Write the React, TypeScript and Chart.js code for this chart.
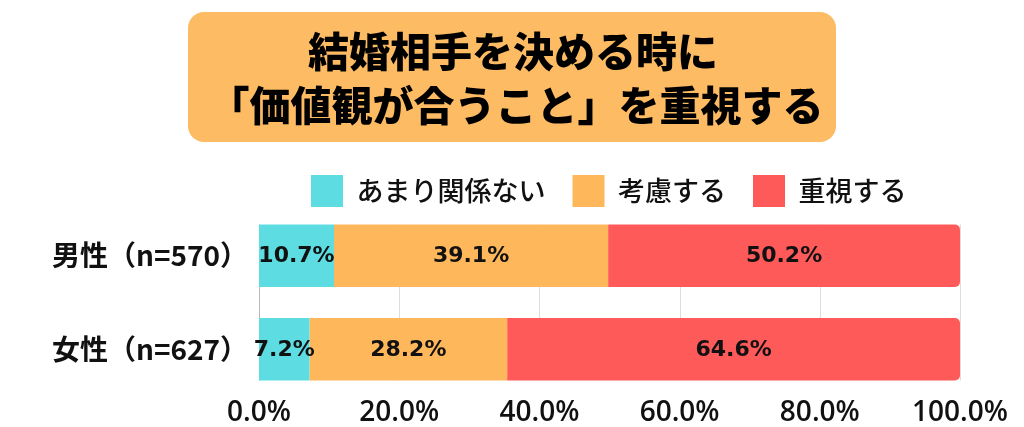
import React, { useEffect, useRef } from "react";
import { Chart, registerables } from "chart.js";

Chart.register(...registerables);

const titleLines = ["結婚相手を決める時に", "「価値観が合うこと」を重視する"];
const categories = ["男性（n=570）", "女性（n=627）"];
const seriesNames = ["あまり関係ない", "考慮する", "重視する"];
const notRelevant = [10.7, 7.2];
const consider = [39.1, 28.2];
const important = [50.2, 64.6];
const seriesColors = ["#5DDDE2", "#FEB75B", "#FF5A5A"];
const TITLE_BG = "#FDBB63";

const titlePlugin = {
  id: "titleBox",
  beforeDraw(chart: any) {
    const ctx = chart.ctx;
    ctx.save();
    ctx.fillStyle = TITLE_BG;
    ctx.beginPath();
    (ctx as any).roundRect(188, 12, 648, 130, 16);
    ctx.fill();
    ctx.fillStyle = "#000";
    ctx.textAlign = "center";
    ctx.textBaseline = "middle";
    ctx.font = '900 41px "Noto Sans CJK JP"';
    ctx.fillText(titleLines[0], 513, 51);
    ctx.fillText(titleLines[1], 516, 105);
    ctx.restore();
  },
};

const legendPlacer = {
  id: "legendPlacer",
  beforeLayout(chart: any) {
    const lg = chart.legend;
    if (lg && !lg._patched) {
      const orig = lg.fit.bind(lg);
      lg.fit = function () {
        orig();
        this.height = 61;
      };
      lg._patched = true;
    }
  },
  afterLayout(chart: any) {
    if (chart.legend) chart.legend.left = 284;
  },
};

// vertical grid lines, drawn only across the band occupied by the bars
const bandGrid = {
  id: "bandGrid",
  beforeDatasetsDraw(chart: any) {
    const xs = chart.scales.x;
    const bars = chart.getDatasetMeta(0).data;
    if (!bars.length) return;
    let top = Infinity;
    let bottom = -Infinity;
    bars.forEach((b: any) => {
      top = Math.min(top, b.y - b.height / 2);
      bottom = Math.max(bottom, b.y + b.height / 2);
    });
    const ctx = chart.ctx;
    ctx.save();
    ctx.lineWidth = 1;
    xs.ticks.forEach((t: any) => {
      const px = Math.round(xs.getPixelForValue(t.value)) + 0.5;
      ctx.strokeStyle = t.value === 0 ? "#b8b8b8" : "#dddddd";
      ctx.beginPath();
      ctx.moveTo(px, top);
      ctx.lineTo(px, bottom);
      ctx.stroke();
    });
    ctx.restore();
  },
};

const valueLabels = {
  id: "valueLabels",
  afterDatasetsDraw(chart: any) {
    const ctx = chart.ctx;
    ctx.save();
    ctx.fillStyle = "#111";
    ctx.textAlign = "center";
    ctx.textBaseline = "middle";
    ctx.font = 'bold 22px "DejaVu Sans"';
    chart.data.datasets.forEach((ds: any, di: number) => {
      const meta = chart.getDatasetMeta(di);
      meta.data.forEach((bar: any, i: number) => {
        const v = ds.data[i];
        const cx = (bar.x + bar.base) / 2;
        ctx.fillText(v.toFixed(1) + "%", cx, bar.y + 1);
      });
    });
    ctx.restore();
  },
};

export default function App() {
  const ref = useRef<HTMLCanvasElement | null>(null);
  useEffect(() => {
    if (!ref.current) return;
    const values = [notRelevant, consider, important];
    const chart = new Chart(ref.current, {
      type: "bar",
      data: {
        labels: categories,
        datasets: seriesNames.map((name, i) => ({
          label: name,
          data: values[i],
          backgroundColor: seriesColors[i],
          borderWidth: 0,
          borderRadius: i === 2 ? 5 : 0,
          borderSkipped: "start",
          barPercentage: 1,
          categoryPercentage: 0.667,
        })),
      },
      options: {
        indexAxis: "y",
        responsive: false,
        animation: false,
        layout: { padding: { top: 148, right: 64, left: 0, bottom: 0 } },
        plugins: {
          title: { display: false },
          tooltip: { enabled: false },
          legend: {
            display: true,
            position: "top",
            align: "start",
            labels: {
              boxWidth: 32,
              boxHeight: 32,
              padding: 27,
              color: "#111",
              font: { family: '"Noto Sans CJK JP"', size: 27, weight: "500" },
            },
          },
        },
        scales: {
          x: {
            stacked: true,
            min: 0,
            max: 100,
            afterFit: (scale: any) => {
              scale.height = 31;
            },
            ticks: {
              stepSize: 20,
              padding: -8,
              color: "#111",
              font: { family: '"Open Sans"', size: 28, weight: "600" },
              callback: (v: any) => Number(v).toFixed(1) + "%",
            },
            grid: { display: false },
            border: { display: false },
          },
          y: {
            stacked: true,
            afterFit: (scale: any) => {
              scale.width = 259;
            },
            ticks: {
              padding: 3,
              color: "#111",
              font: { family: '"Noto Sans CJK JP"', size: 28, weight: "700" },
            },
            grid: { display: false },
            border: { display: false },
          },
        },
      },
      plugins: [titlePlugin, legendPlacer, bandGrid, valueLabels],
    });
    return () => chart.destroy();
  }, []);
  return (
    <div style={{ position: "absolute", left: 0, top: 0, width: 1024, height: 427, background: "#fff" }}>
      <canvas ref={ref} width={1024} height={427} />
    </div>
  );
}
